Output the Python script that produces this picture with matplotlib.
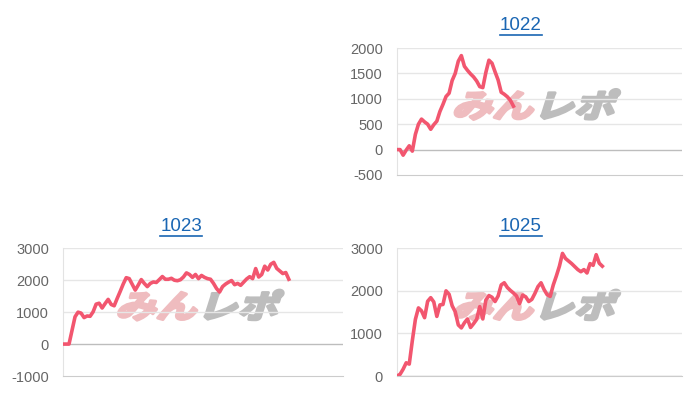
import matplotlib
matplotlib.use("Agg")
import matplotlib.pyplot as plt
import numpy as np
from matplotlib.textpath import TextPath
from matplotlib.patches import PathPatch
from matplotlib.font_manager import FontProperties
from matplotlib.transforms import Affine2D
from matplotlib.lines import Line2D

# machine numbers (titles)
titles = ["1022", "1023", "1025"]

# cumulative values, one point per step
v1022 = [0, 0, -110, -10, 75, -30, 300, 500, 600, 545, 500, 400, 490, 560, 750, 890,
         1045, 1110, 1360, 1500, 1740, 1850, 1640, 1560, 1490, 1430, 1350, 1240, 1220,
         1520, 1760, 1700, 1530, 1370, 1130, 1090, 1040, 970, 855]
v1023 = [0, 0, 0, 430, 855, 1000, 970, 830, 880, 870, 1010, 1250, 1280, 1130, 1270,
         1400, 1240, 1200, 1430, 1650, 1880, 2080, 2050, 1870, 1690, 1850, 2020, 1900,
         1800, 1900, 1945, 1930, 2020, 2115, 2030, 2030, 2060, 2000, 1985, 2015, 2100,
         2230, 2180, 2090, 2180, 2050, 2150, 2090, 2050, 2030, 1900, 1740, 1630, 1800,
         1880, 1940, 1990, 1860, 1900, 1840, 1940, 2040, 2110, 2050, 2365, 2100, 2180,
         2440, 2320, 2500, 2560, 2370, 2290, 2210, 2240, 2030]
v1025 = [0, 40, 160, 310, 280, 830, 1330, 1600, 1530, 1370, 1755, 1840, 1740, 1400,
         1670, 1680, 2000, 1920, 1650, 1510, 1200, 1130, 1250, 1340, 1140, 1230, 1330,
         1630, 1340, 1785, 1890, 1850, 1750, 1880, 2140, 2190, 2080, 2010, 1950, 1880,
         1700, 1900, 1860, 1750, 1800, 1940, 2100, 2190, 2030, 1910, 1870, 2140, 2350,
         2580, 2880, 2760, 2700, 2640, 2570, 2500, 2450, 2500, 2420, 2640, 2600, 2850,
         2650, 2580]

ylims = [(-500, 2000), (-1000, 3000), (0, 3000)]
ysteps = [500, 1000, 1000]
N_MAX = 93

W, H = 700, 400
fig = plt.figure(figsize=(7, 4), dpi=100)
fig.patch.set_facecolor("white")

# axes boxes in pixels: left, top, right, bottom
boxes = [(397, 48, 682, 175), (63, 248.3, 343, 376), (397, 248.3, 682, 376)]
title_pos = [(521, 25), (181, 226.5), (521, 226.5)]

LINE = "#f2566f"
fp_wm = FontProperties(family="Noto Sans CJK JP", weight="bold")


def watermark(ax):
    # italic-ish "みんレポ" logo centred in the plot area
    p1 = TextPath((0, 0), "みん", size=1, prop=fp_wm)
    p2 = TextPath((0, 0), "レポ", size=1, prop=fp_wm)
    w1 = p1.get_extents().x1
    ext = TextPath((0, 0), "みんレポ", size=1, prop=fp_wm).get_extents()
    bb = ax.get_position()
    cx = (bb.x0 + bb.x1) / 2 * W - 3
    cy = (bb.y0 + bb.y1) / 2 * H + 7
    sx = 158 / ext.width
    sy = 30 / ext.height
    for path, dx, col in [(p1, 0, "#efbcbf"), (p2, w1 + 0.05, "#bdbdbd")]:
        tr = (Affine2D().translate(dx - ext.x0 - ext.width / 2, -ext.y0 - ext.height / 2)
              .skew_deg(14, 0).scale(sx, sy).translate(cx, cy)
              .scale(1 / fig.dpi) + fig.dpi_scale_trans)
        fig.add_artist(PathPatch(path, transform=tr, facecolor=col, edgecolor=col,
                                 lw=2.2, joinstyle="round", zorder=1))


axes = []
for vals, box, yl, st in zip([v1022, v1023, v1025], boxes, ylims, ysteps):
    l, t, r, b = box
    ax = fig.add_axes([l / W, 1 - b / H, (r - l) / W, (b - t) / H])
    ax.set_facecolor("none")
    ax.set_zorder(2)
    ax.set_xlim(0, N_MAX)
    ax.set_ylim(*yl)
    ticks = np.arange(yl[0], yl[1] + 1, st)
    ax.set_yticks(ticks)
    ax.set_yticklabels([str(int(v)) for v in ticks], fontsize=10.5, color="#666666",
                       family="Liberation Sans")
    ax.set_xticks([])
    ax.tick_params(axis="y", length=0, pad=10)
    for tv in ticks:
        if tv == 0:
            ax.axhline(0, color="#bdbdbd", lw=1.0, zorder=1)
        elif tv != yl[0]:
            ax.axhline(tv, color="#e6e6e6", lw=1.0, zorder=0)
    for s in ["top", "right"]:
        ax.spines[s].set_visible(False)
    ax.spines["left"].set_color("#e3e3e3")
    ax.spines["bottom"].set_color("#cccccc")
    ax.plot(np.arange(len(vals)), vals, color=LINE, lw=2.6, solid_joinstyle="round",
            zorder=3)
    axes.append(ax)
    watermark(ax)

# underlined link-style titles
fig.canvas.draw()
rend = fig.canvas.get_renderer()
for txt, (tx, ty) in zip(titles, title_pos):
    t = fig.text(tx / W, 1 - ty / H, txt, ha="center", va="center", fontsize=13.5,
                 color="#1a66b3", family="Liberation Sans")
    bb = t.get_window_extent(renderer=rend)
    yline = bb.y0 - 1
    fig.add_artist(Line2D([bb.x0 / W, bb.x1 / W], [yline / H, yline / H],
                          color="#1a66b3", lw=1.2, transform=fig.transFigure))

fig.savefig("out.png", dpi=100, facecolor="white")
